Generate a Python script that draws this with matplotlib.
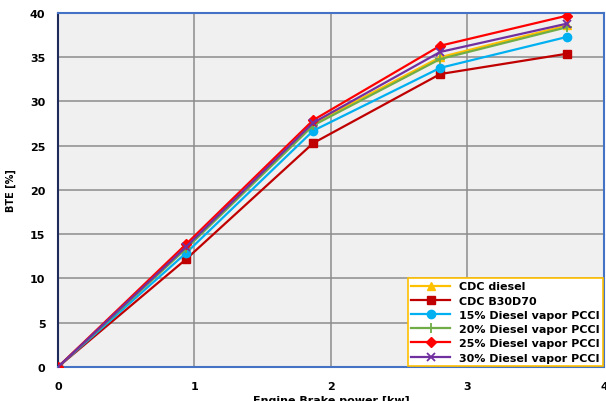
import matplotlib
matplotlib.use("Agg")
import matplotlib.pyplot as plt

power = [0, 0.94, 1.87, 2.80, 3.73]

series_names = [
    "CDC diesel",
    "CDC B30D70",
    "15% Diesel vapor PCCI",
    "20% Diesel vapor PCCI",
    "25% Diesel vapor PCCI",
    "30% Diesel vapor PCCI",
]
bte_cdc_diesel = [0, 13.5, 27.5, 35.0, 38.6]
bte_cdc_b30d70 = [0, 12.2, 25.3, 33.1, 35.4]
bte_15 = [0, 12.9, 26.7, 33.8, 37.3]
bte_20 = [0, 13.4, 27.3, 34.8, 38.4]
bte_25 = [0, 13.9, 27.9, 36.3, 39.7]
bte_30 = [0, 13.6, 27.6, 35.6, 38.8]

colors = ["#FFC000", "#C00000", "#00B0F0", "#70AD47", "#FF0000", "#7030A0"]
markers = ["^", "s", "o", "+", "D", "x"]
msizes = [6, 6, 6, 7, 5, 6]

fig = plt.figure(figsize=(6.06, 4.02), dpi=100)
ax = fig.add_axes([0.0957, 0.0846, 0.901, 0.8806])
ax.set_facecolor("#F0F0F0")

all_series = [bte_cdc_diesel, bte_cdc_b30d70, bte_15, bte_20, bte_25, bte_30]
for name, ys, c, m, ms in zip(series_names, all_series, colors, markers, msizes):
    ax.plot(power, ys, color=c, marker=m, markersize=ms, linewidth=1.6,
            markeredgewidth=1.3 if m in "+x" else 1, label=name, zorder=3)

ax.set_xlim(0, 4)
ax.set_ylim(0, 40)
ax.set_xticks([0, 1, 2, 3, 4])
ax.set_yticks(range(0, 41, 5))
ax.grid(True, color="#8C8C8C", linewidth=1.1)
ax.set_axisbelow(True)
ax.tick_params(axis="x", length=0, labelsize=8, pad=10)
ax.tick_params(axis="y", length=0, labelsize=8, pad=9)
for lab in ax.get_xticklabels() + ax.get_yticklabels():
    lab.set_fontweight("bold")

for side in ["top", "bottom", "right"]:
    ax.spines[side].set_color("#4472C4")
    ax.spines[side].set_linewidth(1.5)
ax.spines["left"].set_color("#1F2A5C")
ax.spines["left"].set_linewidth(1.5)

ax.set_ylabel("BTE [%]", fontsize=7, fontweight="bold", labelpad=10)
ax.set_xlabel("Engine Brake power [kw]", fontsize=8, fontweight="bold", labelpad=3)

leg = ax.legend(loc="lower right", prop={"weight": "bold", "size": 8},
                frameon=True, fancybox=False, borderaxespad=0.1,
                handlelength=3.5, labelspacing=0.38, borderpad=0.3)
leg.get_frame().set_edgecolor("#FFC000")
leg.get_frame().set_linewidth(1.2)
leg.get_frame().set_alpha(1)

fig.savefig("out.png", dpi=100)
